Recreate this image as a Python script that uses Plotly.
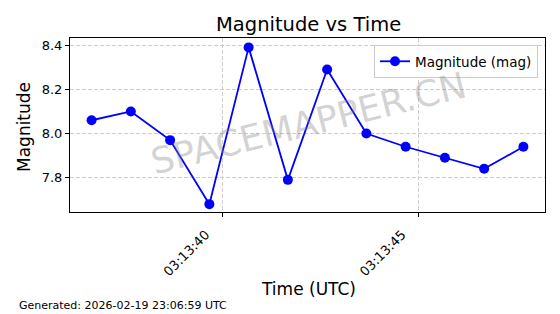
import plotly.graph_objects as go

times = ["2026-02-19 03:13:36.660", "2026-02-19 03:13:37.660", "2026-02-19 03:13:38.660",
         "2026-02-19 03:13:39.660", "2026-02-19 03:13:40.660", "2026-02-19 03:13:41.660",
         "2026-02-19 03:13:42.660", "2026-02-19 03:13:43.660", "2026-02-19 03:13:44.660",
         "2026-02-19 03:13:45.660", "2026-02-19 03:13:46.660", "2026-02-19 03:13:47.660"]
magnitudes = [8.06, 8.10, 7.97, 7.68, 8.39, 7.79, 8.29, 8.00, 7.94, 7.89, 7.84, 7.94]
y_ticks = [7.8, 8.0, 8.2, 8.4]
title_text = "Magnitude vs Time"
series_name = "Magnitude (mag)"
footer = "Generated: 2026-02-19 23:06:59 UTC"

FONT = "DejaVu Sans"
L, R, T, B = 70, 15, 38, 102
W, H = 560, 314
pw, ph = W - L - R, H - T - B

def px(x):
    return (x - L) / pw

def py(y):
    return (H - B - y) / ph

fig = go.Figure()
fig.add_trace(go.Scatter(
    x=times, y=magnitudes, mode="lines+markers", name=series_name,
    line=dict(color="#0000ff", width=1.8),
    marker=dict(color="#0000ff", size=10),
))

grid = dict(showgrid=True, gridcolor="#cccccc", griddash="4px,2px", gridwidth=0.8)

fig.update_layout(
    width=W, height=H,
    margin=dict(l=L, r=R, t=T, b=B),
    paper_bgcolor="white", plot_bgcolor="white",
    font=dict(family=FONT, size=12, color="black"),
    showlegend=True,
    legend=dict(x=px(538), y=py(45), xanchor="right", yanchor="top",
                bgcolor="rgba(255,255,255,0.8)", bordercolor="#cccccc", borderwidth=1,
                font=dict(family=FONT, size=13.5)),
    xaxis=dict(
        type="date", range=["2026-02-19 03:13:36.110", "2026-02-19 03:13:48.210"],
        tick0="2026-02-19 03:13:40", dtick=5000, tickformat="%H:%M:%S",
        tickangle=-45, ticks="outside", ticklen=4, tickcolor="black",
        ticklabelshift=-17, ticklabelstandoff=5,
        showline=True, linecolor="black", linewidth=1, mirror=True,
        zeroline=False, tickfont=dict(size=13), **grid,
    ),
    yaxis=dict(
        range=[7.6445, 8.4325], tickvals=y_ticks, tickformat=".1f",
        ticks="outside", ticklen=4, tickcolor="black",
        showline=True, linecolor="black", linewidth=1, mirror=True,
        zeroline=False, tickfont=dict(size=13), **grid,
    ),
    annotations=[
        dict(text=title_text, xref="paper", yref="paper", x=px(308), y=py(24),
             xanchor="center", yanchor="middle", showarrow=False,
             font=dict(family=FONT, size=19.5)),
        dict(text="Time (UTC)", xref="paper", yref="paper", x=px(308), y=py(289),
             xanchor="center", yanchor="middle", showarrow=False,
             font=dict(family=FONT, size=17)),
        dict(text="Magnitude", xref="paper", yref="paper", x=px(24), y=py(127),
             xanchor="center", yanchor="middle", showarrow=False, textangle=-90,
             font=dict(family=FONT, size=17)),
        dict(text=footer, xref="paper", yref="paper", x=px(17), y=py(305),
             xanchor="left", yanchor="middle", showarrow=False,
             font=dict(family=FONT, size=11)),
        dict(text="SPACEMAPPER.CN", xref="paper", yref="paper", x=px(308), y=py(124),
             xanchor="center", yanchor="middle", showarrow=False, textangle=-14,
             font=dict(family=FONT, size=36, color="rgba(128,128,128,0.35)")),
    ],
)

fig.write_html("out.html")
